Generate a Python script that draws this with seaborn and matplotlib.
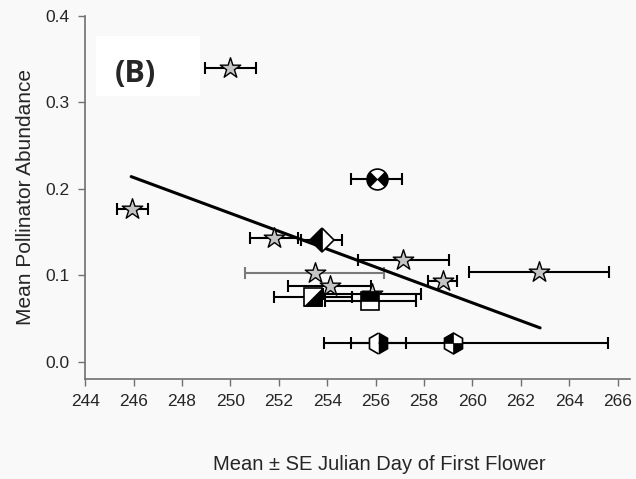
import numpy as np
import matplotlib
matplotlib.use('Agg')
import matplotlib.pyplot as plt
from matplotlib.path import Path
from matplotlib.patches import Rectangle
import seaborn as sns

# 별 모양 (종) : 평균 개화일, 평균 방화곤충 수, 표준오차
star_x = [250.0, 245.95, 251.8, 253.48, 254.1, 255.84, 257.15, 258.77, 262.76]
star_y = [0.340, 0.177, 0.143, 0.103, 0.087, 0.078, 0.118, 0.093, 0.104]
star_se = [1.05, 0.65, 1.0, 2.87, 1.73, 2.03, 1.87, 0.61, 2.9]

# 나머지 기호들
diamond_x, diamond_y, diamond_se = [253.78], [0.141], [0.85]
circle_x, circle_y, circle_se = [256.05], [0.211], [1.05]
sq_tri_x, sq_tri_y, sq_tri_se = [253.41], [0.075], [1.62]
sq_top_x, sq_top_y, sq_top_se = [255.78], [0.070], [1.87]
hex_half_x, hex_half_y, hex_half_se = [256.12], [0.022], [1.13]
hex_quad_x, hex_quad_y = [259.2], [0.022]
hex_quad_se = [[5.32], [6.4]]   # 왼쪽, 오른쪽

# 회귀선 양 끝점
fit_x = [245.9, 262.8]
fit_y = [0.214, 0.039]

x_ticks = list(range(244, 267, 2))
y_ticks = [0.0, 0.1, 0.2, 0.3, 0.4]

sns.set_theme(style='ticks')
plt.rcParams['font.family'] = ['Liberation Sans', 'DejaVu Sans']

bg = '#f9f9f9'
fig = plt.figure(figsize=(6.36, 4.79), dpi=100, facecolor=bg)
ax = fig.add_axes([0.134, 0.209, 0.856, 0.758])
ax.set_facecolor(bg)

# 오차막대
def ebar(x, y, se, color='black'):
    ax.errorbar(x, y, xerr=se, fmt='none', ecolor=color, elinewidth=1.5,
                capsize=4.5, capthick=1.5, zorder=2)

for i in range(len(star_x)):
    ebar([star_x[i]], [star_y[i]], [star_se[i]], '#7a7a7a' if i == 3 else 'black')
for xs, ys, ss in [(diamond_x, diamond_y, diamond_se), (circle_x, circle_y, circle_se),
                   (sq_tri_x, sq_tri_y, sq_tri_se), (sq_top_x, sq_top_y, sq_top_se),
                   (hex_half_x, hex_half_y, hex_half_se), (hex_quad_x, hex_quad_y, hex_quad_se)]:
    ebar(xs, ys, ss)

# 회귀선
sns.lineplot(x=fit_x, y=fit_y, color='black', linewidth=2.2, ax=ax, zorder=3)

# 별
sns.scatterplot(x=star_x, y=star_y, marker='*', s=240, color='#c4c4c4',
                edgecolor='black', linewidth=1.0, ax=ax, zorder=4)

# 반쯤 채운 기호
ax.plot(diamond_x, diamond_y, 'D', ms=12, fillstyle='left', markerfacecolor='black',
        markeredgecolor='black', markerfacecoloralt='white', mew=1.2, zorder=4)
ax.plot(sq_top_x, sq_top_y, 's', ms=13.5, fillstyle='top', markerfacecolor='black',
        markerfacecoloralt='white', markeredgecolor='black', mew=1.2, zorder=4)
ax.plot(hex_half_x, hex_half_y, 'h', ms=15, fillstyle='right', markerfacecolor='black',
        markerfacecoloralt='white', markeredgecolor='black', mew=1.2, zorder=4)

# 사용자 정의 기호 경로
tri_path = Path([(-1, -1), (1, -1), (1, 1), (-1, -1)], closed=True)
wedges = Path.make_compound_path(Path.wedge(135, 225), Path.wedge(-45, 45))
c30, s30 = np.cos(np.pi / 6), 0.5
quad = Path.make_compound_path(
    Path([(0, 0), (0, 1), (-c30, s30), (-c30, 0), (0, 0)], closed=True),
    Path([(0, 0), (0, -1), (c30, -s30), (c30, 0), (0, 0)], closed=True))

ax.plot(sq_tri_x, sq_tri_y, 's', ms=13.5, markerfacecolor='white', markeredgecolor='black', mew=1.2, zorder=4)
ax.plot(sq_tri_x, sq_tri_y, marker=tri_path, ms=13.5, ls='none', markerfacecolor='black',
        markeredgecolor='black', mew=0.5, zorder=5)
ax.plot(circle_x, circle_y, 'o', ms=15, markerfacecolor='white', markeredgecolor='black', mew=1.2, zorder=4)
ax.plot(circle_x, circle_y, marker=wedges, ms=15, ls='none', markerfacecolor='black',
        markeredgecolor='black', mew=0.5, zorder=5)
ax.plot(hex_quad_x, hex_quad_y, 'h', ms=15, markerfacecolor='white', markeredgecolor='black', mew=1.2, zorder=4)
ax.plot(hex_quad_x, hex_quad_y, marker=quad, ms=15, ls='none', markerfacecolor='black',
        markeredgecolor='black', mew=0.5, zorder=5)

ax.set_xlim(244, 266.5)
ax.set_ylim(-0.02, 0.4)
ax.set_xticks(x_ticks)
ax.set_yticks(y_ticks)
ax.set_yticklabels([f'{v:.1f}' for v in y_ticks])
ax.tick_params(direction='out', length=5, width=1, color='#707070', labelsize=12.5, pad=6)
for side in ['left', 'bottom']:
    ax.spines[side].set_color('#707070')
    ax.spines[side].set_linewidth(1.2)
sns.despine(ax=ax)

ax.set_xlabel('Mean \u00b1 SE Julian Day of First Flower', fontsize=14.5, labelpad=33, x=0.54)
ax.set_ylabel('Mean Pollinator Abundance', fontsize=15, labelpad=8)

# (B) 라벨
ax.add_patch(Rectangle((0.02, 0.78), 0.19, 0.165, transform=ax.transAxes,
                       facecolor='white', edgecolor='none', zorder=1))
ax.text(0.055, 0.84, '(B)', transform=ax.transAxes, fontsize=22, fontweight='bold',
        family=['Open Sans', 'DejaVu Sans'], va='center', ha='left', zorder=6)

fig.savefig('out.png', dpi=100, facecolor=bg)
